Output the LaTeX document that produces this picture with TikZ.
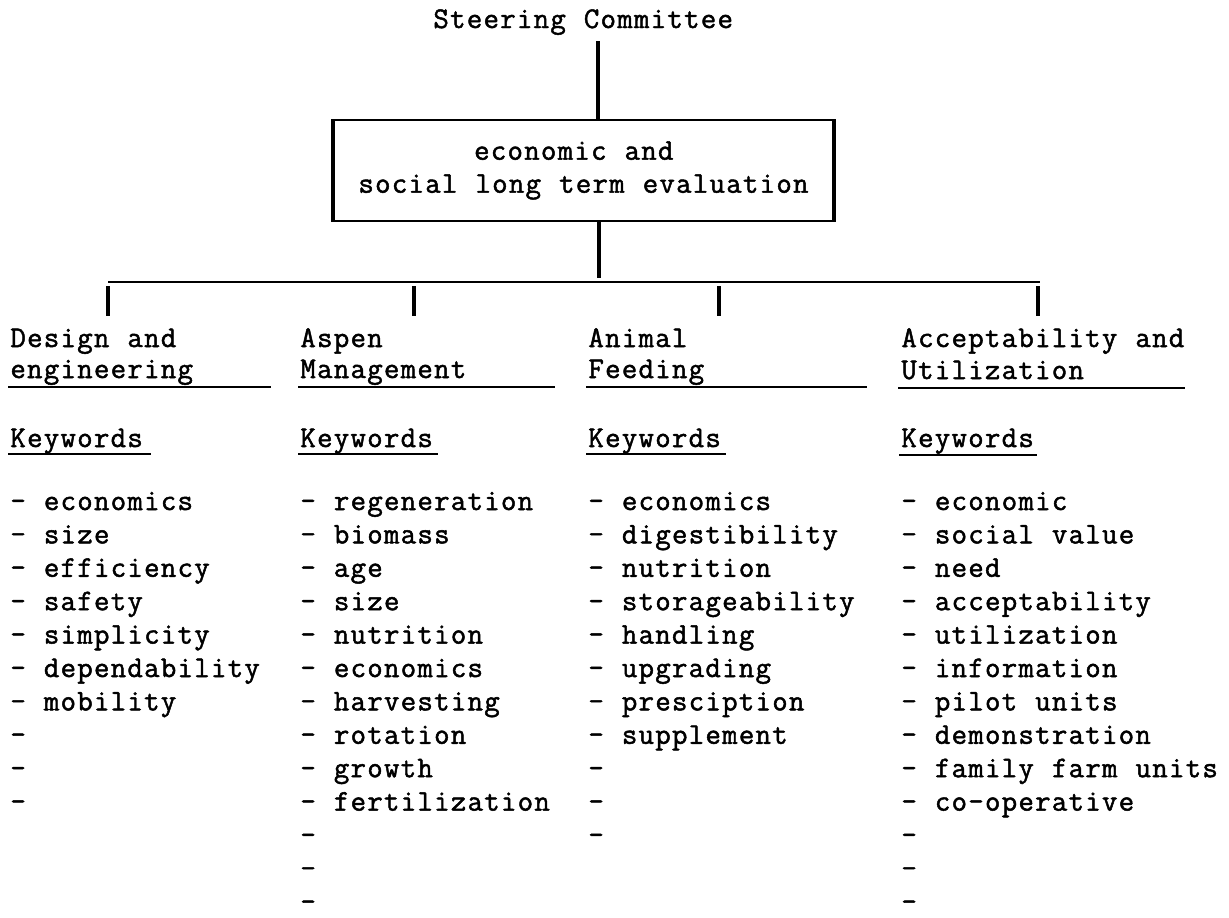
\documentclass[tikz,border=0pt]{standalone}
\usepackage{fontspec}
\setmainfont{Latin Modern Mono}[LetterSpace=4.2,WordSpace=1.08,FakeBold=1.6]
\usetikzlibrary{calc}
\newcommand\twfont{\fontsize{15}{16.5}\selectfont}
\begin{document}
\begin{tikzpicture}[x=0.5pt,y=-0.5pt,
  txt/.style={inner sep=0pt, anchor=base west, font=\twfont},
  stem/.style={line width=2pt},
  busline/.style={line width=0.8pt},
  uline/.style={line width=0.9pt},
  evalbox/.style={draw, line width=1pt, minimum width=249.5pt, minimum height=50.5pt,
                  inner sep=0pt, align=left, font=\twfont}]
\useasboundingbox (0,0) rectangle (1229,917);

% top
\node[txt] (sc) at (433,28) {Steering Committee};
\node[evalbox] (eval) at (583.5,170.5) {\hphantom{sociall}economic and\\social long term evaluation};
\draw[line width=1.8pt] (eval.north west) -- (eval.south west);
\draw[line width=1.8pt] (eval.north east) -- (eval.south east);

\coordinate (spineA) at (597.5,0);
\coordinate (spineB) at (598.5,0);
\coordinate (busL) at (108,282);
\coordinate (busR) at (1040,282);
\draw[stem] ([yshift=-3pt]sc.south -| spineA) -- (eval.north -| spineA);
\draw[stem] (eval.south -| spineB) -- ([yshift=2pt]busL -| spineB);
\draw[busline] (busL) -- (busR);

% stubs
\coordinate (s1) at (108,316);
\coordinate (s2) at (414,316);
\coordinate (s3) at (719,316);
\coordinate (s4) at (1038,316);
\foreach \s in {s1,s2,s3,s4}
  \draw[stem] ([yshift=-2pt]busL -| \s) -- (\s);

% titles
\node[txt] (t1a) at (10,347) {Design and};
\node[txt] (t1b) at (10,378) {engineering};
\node[txt] (t2a) at (300,347) {Aspen};
\node[txt] (t2b) at (300,378) {Management};
\node[txt] (t3a) at (588,347) {Animal};
\node[txt] (t3b) at (588,378) {Feeding};
\node[txt] (t4a) at (901,347) {Acceptability and};
\node[txt] (t4b) at (901,379) {Utilization};
\draw[uline] (8,387) -- (271,387);
\draw[uline] (298,387) -- (555,387);
\draw[uline] (586,387) -- (867,387);
\draw[uline] (898,388) -- (1185,388);

% keywords
\foreach \x/\n in {10/k1,300/k2,588/k3,901/k4}
  \node[txt] (\n) at (\x,447) {Keywords};
\draw[uline] (8,454) -- (151,454);
\draw[uline] (298,454) -- (438,454);
\draw[uline] (586,454) -- (726,454);
\draw[uline] (899,455) -- (1037,455);

% lists
\foreach \w [count=\i from 0] in {economics,size,efficiency,safety,simplicity,dependability,mobility,{},{},{}}
  \node[txt] (a\i) at (10,{510+33.4*\i}) {- \w};
\foreach \w [count=\i from 0] in {regeneration,biomass,age,size,nutrition,economics,harvesting,rotation,growth,fertilization,{},{},{}}
  \node[txt] (b\i) at (300,{510+33.4*\i}) {- \w};
\foreach \w [count=\i from 0] in {economics,digestibility,nutrition,storageability,handling,upgrading,presciption,supplement,{},{},{}}
  \node[txt] (c\i) at (588,{510+33.4*\i}) {- \w};
\foreach \w [count=\i from 0] in {economic,social value,need,acceptability,utilization,information,pilot units,demonstration,family farm units,co-operative,{},{},{}}
  \node[txt] (d\i) at (901,{510+33.4*\i}) {- \w};
\end{tikzpicture}
\end{document}
